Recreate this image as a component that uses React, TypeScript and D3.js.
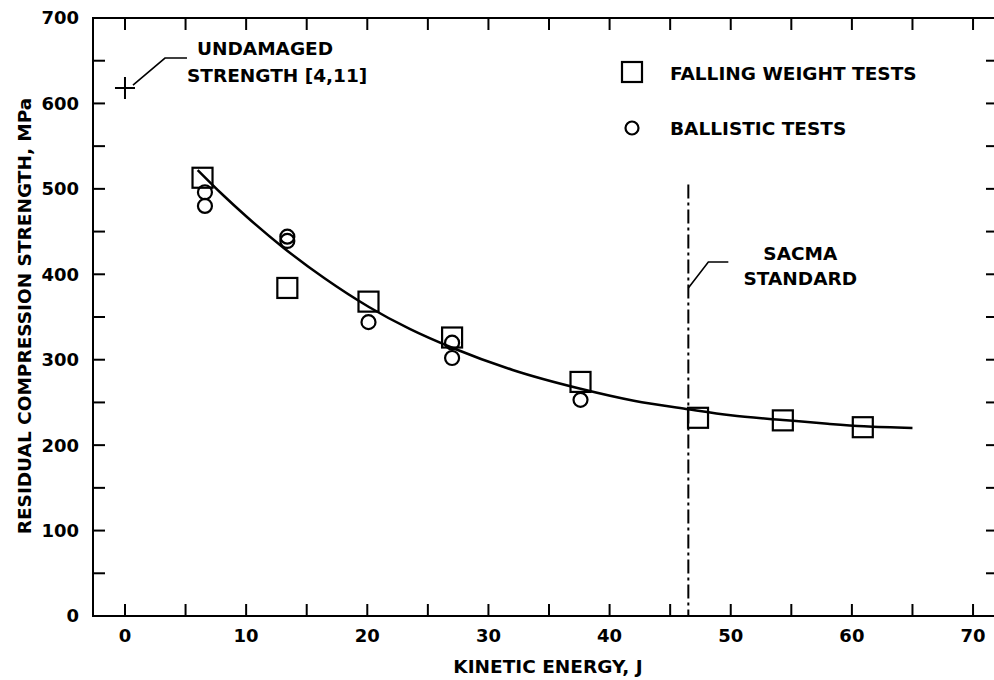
import React, { useEffect, useRef } from 'react';
import * as d3 from 'd3';

// falling weight tests (squares)
const fallingEnergy = [6.4, 13.4, 20.1, 27.0, 37.6, 47.3, 54.3, 60.9];
const fallingStrength = [513, 384, 368, 326, 274, 232, 229, 221];

// ballistic tests (circles)
const ballisticEnergy = [6.6, 6.6, 13.4, 13.4, 20.1, 27.0, 27.0, 37.6];
const ballisticStrength = [496, 480, 444, 439, 344, 320, 302, 253];

// fitted curve
const fitEnergy = [6.0, 8, 10, 13, 16.5, 20.1, 23.5, 27, 32, 37.6, 42, 46.5, 50, 54.3, 58, 61, 65];
const fitStrength = [522, 494, 468, 432, 395, 362, 336, 314, 288, 266, 252, 242, 235, 229.5, 225, 222, 220];

const xTickLabels = [0, 10, 20, 30, 40, 50, 60, 70];
const yTickLabels = [0, 100, 200, 300, 400, 500, 600, 700];

const undamagedEnergy = 0;
const undamagedStrength = 618;
const sacmaEnergy = 46.5;
const sacmaTop = 505;

const FONT = "'DejaVu Sans', sans-serif";

const App: React.FC = () => {
  const svgRef = useRef<SVGSVGElement | null>(null);

  useEffect(() => {
    const width = 994;
    const height = 680;
    const svg = d3.select(svgRef.current);
    svg.selectAll("*").remove();

    const x = d3.scaleLinear().domain([-2.64, 72.06]).range([93, 998]);
    const y = d3.scaleLinear().domain([0, 700]).range([616, 18]);

    const left = x.range()[0], right = x.range()[1];
    const top = y.range()[1], bottom = y.range()[0];

    svg.attr("width", width).attr("height", height);
    svg.append("rect").attr("width", width).attr("height", height).attr("fill", "white");

    // frame
    svg.append("rect")
      .attr("x", left).attr("y", top)
      .attr("width", right - left).attr("height", bottom - top)
      .attr("fill", "none").attr("stroke", "black").attr("stroke-width", 2);

    const tick = 12;
    const xt = d3.range(0, 71, 5);
    const yt = d3.range(50, 700, 50);
    const ticks = svg.append("g").attr("stroke", "black").attr("stroke-width", 2);
    xt.forEach(v => {
      ticks.append("line").attr("x1", x(v)).attr("x2", x(v)).attr("y1", bottom).attr("y2", bottom - tick);
      ticks.append("line").attr("x1", x(v)).attr("x2", x(v)).attr("y1", top).attr("y2", top + tick);
    });
    yt.forEach(v => {
      ticks.append("line").attr("x1", left).attr("x2", left + tick).attr("y1", y(v)).attr("y2", y(v));
      ticks.append("line").attr("x1", right).attr("x2", right - tick).attr("y1", y(v)).attr("y2", y(v));
    });

    // tick labels
    svg.append("g")
      .selectAll("text")
      .data(xTickLabels)
      .join("text")
      .attr("x", d => x(d))
      .attr("y", 642)
      .attr("text-anchor", "middle")
      .attr("font-family", FONT).attr("font-weight", "bold").attr("font-size", 18)
      .text(d => d);

    svg.append("g")
      .selectAll("text")
      .data(yTickLabels)
      .join("text")
      .attr("x", 79)
      .attr("y", d => y(d))
      .attr("dy", "0.36em")
      .attr("text-anchor", "end")
      .attr("font-family", FONT).attr("font-weight", "bold").attr("font-size", 18)
      .text(d => d);

    // axis titles
    svg.append("text")
      .attr("x", 548).attr("y", 673)
      .attr("text-anchor", "middle")
      .attr("font-family", FONT).attr("font-weight", "bold").attr("font-size", 18.5)
      .text("KINETIC ENERGY, J");

    svg.append("text")
      .attr("transform", `translate(31,${(y(0) + y(700)) / 2 - 1}) rotate(-90)`)
      .attr("text-anchor", "middle")
      .attr("font-family", FONT).attr("font-weight", "bold").attr("font-size", 18.5)
      .text("RESIDUAL COMPRESSION STRENGTH, MPa");

    // SACMA standard line
    svg.append("line")
      .attr("x1", x(sacmaEnergy)).attr("x2", x(sacmaEnergy))
      .attr("y1", y(sacmaTop)).attr("y2", bottom)
      .attr("stroke", "black").attr("stroke-width", 2)
      .attr("stroke-dasharray", "14,4,3,4");

    // fitted curve
    const fit = fitEnergy.map((e, i) => [e, fitStrength[i]] as [number, number]);
    svg.append("path")
      .datum(fit)
      .attr("fill", "none").attr("stroke", "black").attr("stroke-width", 2.5)
      .attr("d", d3.line<[number, number]>().x(d => x(d[0])).y(d => y(d[1])).curve(d3.curveMonotoneX));

    // markers
    const sq = 20;
    svg.append("g")
      .selectAll("rect")
      .data(fallingEnergy.map((e, i) => [e, fallingStrength[i]]))
      .join("rect")
      .attr("x", d => x(d[0]) - sq / 2).attr("y", d => y(d[1]) - sq / 2)
      .attr("width", sq).attr("height", sq)
      .attr("fill", "none").attr("stroke", "black").attr("stroke-width", 2.2);

    svg.append("g")
      .selectAll("circle")
      .data(ballisticEnergy.map((e, i) => [e, ballisticStrength[i]]))
      .join("circle")
      .attr("cx", d => x(d[0])).attr("cy", d => y(d[1])).attr("r", 7)
      .attr("fill", "none").attr("stroke", "black").attr("stroke-width", 2.2);

    // undamaged strength marker
    const ux = x(undamagedEnergy), uy = y(undamagedStrength);
    svg.append("path")
      .attr("d", `M${ux - 10},${uy}H${ux + 10}M${ux},${uy - 11}V${uy + 11}`)
      .attr("stroke", "black").attr("stroke-width", 2);
    svg.append("path")
      .attr("d", `M${ux + 8},${uy - 3}L${ux + 40},${uy - 30}H${ux + 62}`)
      .attr("fill", "none").attr("stroke", "black").attr("stroke-width", 1.6);
    svg.append("text")
      .attr("x", ux + 72).attr("y", uy - 33)
      .attr("font-family", FONT).attr("font-weight", "bold").attr("font-size", 18.5)
      .text("UNDAMAGED");
    svg.append("text")
      .attr("x", ux + 62).attr("y", uy - 6)
      .attr("font-family", FONT).attr("font-weight", "bold").attr("font-size", 18.5)
      .text("STRENGTH [4,11]");

    // SACMA label
    const sx = x(sacmaEnergy), sy = 288;
    svg.append("path")
      .attr("d", `M${sx},${sy}L${sx + 20},${sy - 26}H${sx + 40}`)
      .attr("fill", "none").attr("stroke", "black").attr("stroke-width", 1.6);
    svg.append("text")
      .attr("x", sx + 112).attr("y", sy - 28)
      .attr("text-anchor", "middle")
      .attr("font-family", FONT).attr("font-weight", "bold").attr("font-size", 18.5)
      .text("SACMA");
    svg.append("text")
      .attr("x", sx + 112).attr("y", sy - 3)
      .attr("text-anchor", "middle")
      .attr("font-family", FONT).attr("font-weight", "bold").attr("font-size", 18.5)
      .text("STANDARD");

    // legend
    svg.append("rect")
      .attr("x", 622).attr("y", 62).attr("width", 20).attr("height", 20)
      .attr("fill", "none").attr("stroke", "black").attr("stroke-width", 2.2);
    svg.append("text")
      .attr("x", 670).attr("y", 80)
      .attr("font-family", FONT).attr("font-weight", "bold").attr("font-size", 18.5)
      .text("FALLING WEIGHT TESTS");
    svg.append("circle")
      .attr("cx", 632).attr("cy", 128).attr("r", 6.5)
      .attr("fill", "none").attr("stroke", "black").attr("stroke-width", 2.2);
    svg.append("text")
      .attr("x", 670).attr("y", 135)
      .attr("font-family", FONT).attr("font-weight", "bold").attr("font-size", 18.5)
      .text("BALLISTIC TESTS");
  }, []);

  return (
    <svg ref={svgRef} style={{ position: "absolute", left: 0, top: 0, display: "block" }}></svg>
  );
};

export default App;
